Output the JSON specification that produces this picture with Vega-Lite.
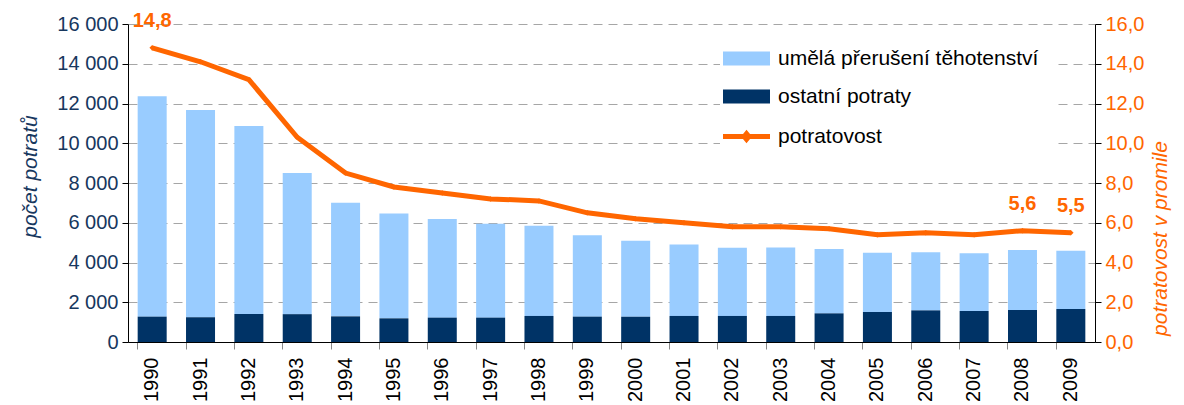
{
  "$schema": "https://vega.github.io/schema/vega-lite/v6.json",
  "width": 967,
  "height": 318,
  "autosize": "none",
  "padding": {"left": 128, "top": 24, "right": 89, "bottom": 63},
  "background": "white",
  "config": {
    "font": "Liberation Sans",
    "view": {"stroke": null},
    "locale": {
      "number": {"decimal": ",", "thousands": " ", "grouping": [3], "currency": ["", " Kč"]}
    }
  },
  "data": {
    "values": [
      {"rok": "1990", "ostatní potraty": 1275, "umělá přerušení těhotenství": 11085, "potratovost": 14.8},
      {"rok": "1991", "ostatní potraty": 1240, "umělá přerušení těhotenství": 10430, "potratovost": 14.1},
      {"rok": "1992", "ostatní potraty": 1410, "umělá přerušení těhotenství": 9460, "potratovost": 13.2},
      {"rok": "1993", "ostatní potraty": 1400, "umělá přerušení těhotenství": 7100, "potratovost": 10.3},
      {"rok": "1994", "ostatní potraty": 1290, "umělá přerušení těhotenství": 5720, "potratovost": 8.5},
      {"rok": "1995", "ostatní potraty": 1190, "umělá přerušení těhotenství": 5280, "potratovost": 7.8},
      {"rok": "1996", "ostatní potraty": 1225, "umělá přerušení těhotenství": 4965, "potratovost": 7.5},
      {"rok": "1997", "ostatní potraty": 1225, "umělá přerušení těhotenství": 4725, "potratovost": 7.2},
      {"rok": "1998", "ostatní potraty": 1310, "umělá přerušení těhotenství": 4540, "potratovost": 7.1},
      {"rok": "1999", "ostatní potraty": 1275, "umělá přerušení těhotenství": 4095, "potratovost": 6.5},
      {"rok": "2000", "ostatní potraty": 1275, "umělá přerušení těhotenství": 3825, "potratovost": 6.2},
      {"rok": "2001", "ostatní potraty": 1310, "umělá přerušení těhotenství": 3600, "potratovost": 6.0},
      {"rok": "2002", "ostatní potraty": 1310, "umělá přerušení těhotenství": 3435, "potratovost": 5.8},
      {"rok": "2003", "ostatní potraty": 1310, "umělá přerušení těhotenství": 3450, "potratovost": 5.8},
      {"rok": "2004", "ostatní potraty": 1440, "umělá přerušení těhotenství": 3240, "potratovost": 5.7},
      {"rok": "2005", "ostatní potraty": 1510, "umělá přerušení těhotenství": 2985, "potratovost": 5.4},
      {"rok": "2006", "ostatní potraty": 1590, "umělá přerušení těhotenství": 2920, "potratovost": 5.5},
      {"rok": "2007", "ostatní potraty": 1560, "umělá přerušení těhotenství": 2900, "potratovost": 5.4},
      {"rok": "2008", "ostatní potraty": 1610, "umělá přerušení těhotenství": 3020, "potratovost": 5.6},
      {"rok": "2009", "ostatní potraty": 1660, "umělá přerušení těhotenství": 2935, "potratovost": 5.5}
    ]
  },
  "encoding": {
    "x": {
      "field": "rok",
      "type": "ordinal",
      "scale": {"paddingInner": 0.4, "paddingOuter": 0.2},
      "axis": {
        "title": null,
        "labelAngle": -90,
        "labelFontSize": 20,
        "labelColor": "#000000",
        "labelPadding": 8,
        "labelAlign": "right",
        "labelBaseline": "middle",
        "bandPosition": 0,
        "tickColor": "#888888",
        "tickSize": 7,
        "domainColor": "#000000",
        "grid": false
      }
    }
  },
  "layer": [
    {
      "transform": [
        {"fold": ["umělá přerušení těhotenství", "ostatní potraty"], "as": ["typ", "pocet"]}
      ],
      "mark": {"type": "bar"},
      "encoding": {
        "y": {
          "field": "pocet",
          "type": "quantitative",
          "stack": "zero",
          "scale": {"domain": [0, 16000], "nice": false},
          "axis": {
            "title": "počet potratů",
            "titleFontStyle": "italic",
            "titleFontWeight": "normal",
            "titleFontSize": 21,
            "titleColor": "#17375E",
            "titleAngle": 270,
            "titleX": -98,
            "titleY": 152,
            "titleAlign": "center",
            "titleBaseline": "middle",
            "values": [0, 2000, 4000, 6000, 8000, 10000, 12000, 14000, 16000],
            "format": ",.0f",
            "labelFontSize": 20,
            "labelColor": "#17375E",
            "labelPadding": 4,
            "tickColor": "#000000",
            "tickSize": 6,
            "domainColor": "#000000",
            "grid": true,
            "gridColor": "#A6A6A6",
            "gridDash": [9, 6],
            "gridWidth": 1
          }
        },
        "order": {"field": "typ", "sort": "ascending"},
        "color": {
          "field": "typ",
          "type": "nominal",
          "scale": {
            "domain": ["umělá přerušení těhotenství", "ostatní potraty", "potratovost"],
            "range": ["#99CCFF", "#003366", "#FF6600"]
          },
          "legend": {
            "title": null,
            "orient": "none",
            "legendX": 592,
            "legendY": 8,
            "padding": 16,
            "fillColor": "white",
            "strokeColor": null,
            "labelFontSize": 21,
            "labelColor": "#000000",
            "labelFont": "Liberation Sans",
            "labelOffset": 21,
            "labelLimit": 500,
            "rowPadding": 16,
            "symbolSize": 2209,
            "symbolOpacity": 1,
            "encode": {
              "symbols": {
                "update": {
                  "shape": {"signal": "datum.label === 'potratovost' ? 'M-1,0H1M-0.1,0L0,-0.12L0.1,0L0,0.12Z' : 'M-1,-0.3H1V0.3H-1Z'"},
                  "fill": {"scale": "color", "field": "value"},
                  "stroke": {"signal": "datum.label === 'potratovost' ? '#FF6600' : 'transparent'"},
                  "strokeWidth": {"signal": "datum.label === 'potratovost' ? 5 : 0"},
                  "size": {"value": 2209},
                  "opacity": {"value": 1}
                }
              }
            }
          }
        }
      }
    },
    {
      "mark": {
        "type": "line",
        "color": "#FF6600",
        "strokeWidth": 5,
        "point": {"shape": "diamond", "size": 30, "filled": true, "color": "#FF6600"}
      },
      "encoding": {
        "y": {
          "field": "potratovost",
          "type": "quantitative",
          "scale": {"domain": [0, 16], "nice": false},
          "axis": {
            "orient": "right",
            "title": "potratovost v promile",
            "titleFontStyle": "italic",
            "titleFontWeight": "normal",
            "titleFontSize": 21,
            "titleColor": "#FF6600",
            "titleAngle": 270,
            "titleX": 65,
            "titleY": 214,
            "titleAlign": "center",
            "titleBaseline": "middle",
            "values": [0, 2, 4, 6, 8, 10, 12, 14, 16],
            "format": ".1f",
            "labelFontSize": 20,
            "labelColor": "#FF6600",
            "labelPadding": 4,
            "tickColor": "#000000",
            "tickSize": 6,
            "domainColor": "#000000",
            "grid": false
          }
        },
        "color": {"datum": "potratovost", "type": "nominal"}
      }
    },
    {
      "transform": [{"filter": {"field": "rok", "oneOf": ["1990", "2008", "2009"]}}],
      "mark": {"type": "text", "dy": -27, "fontSize": 20, "fontWeight": "bold", "color": "#FF6600", "baseline": "middle"},
      "encoding": {
        "y": {"field": "potratovost", "type": "quantitative", "scale": {"domain": [0, 16], "nice": false}, "axis": null},
        "text": {"field": "potratovost", "type": "quantitative", "format": ".1f"}
      }
    }
  ],
  "resolve": {"scale": {"y": "independent"}}
}
